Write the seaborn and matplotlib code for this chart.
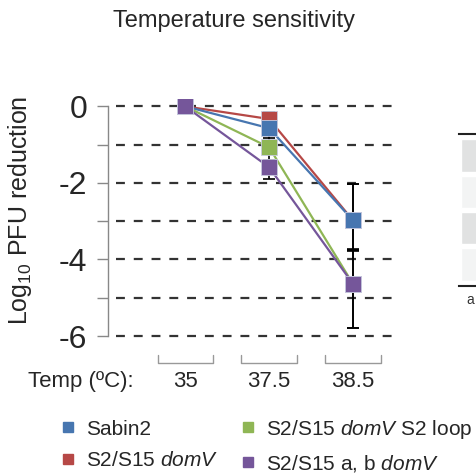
import numpy as np
import pandas as pd
import matplotlib
matplotlib.use("Agg")
import matplotlib.pyplot as plt
from matplotlib.lines import Line2D
import seaborn as sns

# data
temps = ["35", "37.5", "38.5"]
strains = ["Sabin2", "S2/S15 domV", "S2/S15 domV S2 loop", "S2/S15 a, b domV"]
legend_labels = ["Sabin2", r"S2/S15 $\mathit{domV}$",
                 r"S2/S15 $\mathit{domV}$ S2 loop", r"S2/S15 a, b $\mathit{domV}$"]
colors = ["#4776b0", "#b64846", "#8fb655", "#75569a"]

sabin2 = [0, -0.57, -2.98]
domv = [0, -0.33, -2.98]
domv_loop = [0, -1.07, -4.64]
ab_domv = [0, -1.59, -4.64]

sabin2_err_lo = [0, 0.25, 0.78]
sabin2_err_hi = [0, 0.25, 0.96]
domv_err_lo = [0, 0.17, 0.78]
domv_err_hi = [0, 0.17, 0.96]
loop_err_lo = [0, 0.32, 1.16]
loop_err_hi = [0, 0.32, 0.85]
ab_err_lo = [0, 0.30, 1.16]
ab_err_hi = [0, 0.20, 0.92]

values = [sabin2, domv, domv_loop, ab_domv]
err_lo = [sabin2_err_lo, domv_err_lo, loop_err_lo, ab_err_lo]
err_hi = [sabin2_err_hi, domv_err_hi, loop_err_hi, ab_err_hi]

# right-hand clipped panel rows
side_rows = [0, 1, 2, 3]
side_colors = ["#e1e2e2", "#f3f4f4", "#e1e2e2", "#f3f4f4"]

sns.set_style("white")
plt.rcParams["font.family"] = ["Liberation Sans", "DejaVu Sans"]
plt.rcParams["mathtext.fontset"] = "custom"
plt.rcParams["mathtext.rm"] = "Liberation Sans"
plt.rcParams["mathtext.it"] = "Liberation Sans:italic"

df = pd.DataFrame({
    "strain": np.repeat(strains, len(temps)),
    "pos": np.tile(np.arange(len(temps)), len(strains)),
    "value": np.concatenate(values),
})

fig = plt.figure(figsize=(4.77, 4.75), dpi=100)
ax = fig.add_axes([108 / 477, (475 - 343.7) / 475, 287 / 477, 245 / 475])

xmin, xmax = -0.92, 2.5
ax.set_xlim(xmin, xmax)
ax.set_ylim(-6.2, 0.2)

# dashed reference lines
ax.hlines(np.arange(-6, 1), -0.83, xmax, colors="#333333", linestyles=(0, (4, 4)),
          linewidth=1.6, zorder=1)

# error bars (drawn beneath the markers)
for i in range(len(strains)):
    ax.errorbar(np.arange(len(temps)), values[i], yerr=[err_lo[i], err_hi[i]],
                fmt="none", ecolor="black", elinewidth=1.2, capsize=4,
                capthick=1.2, zorder=2)

# lines + square markers, drawn so the reference's overlap order is kept
draw_order = [1, 0, 2, 3]
for k, i in enumerate(draw_order):
    sub = df[df["strain"] == strains[i]]
    sns.lineplot(data=sub, x="pos", y="value", ax=ax, color=colors[i],
                 marker="s", markersize=11.5, markeredgecolor="#c9cbe0",
                 markeredgewidth=0.6, linewidth=1.6, legend=False, zorder=3 + k)

ax.set_xlabel("")
ax.set_ylabel("")
ax.set_xticks([])
ax.set_yticks(np.arange(-6, 1))
ax.set_yticklabels(["-6", "", "-4", "", "-2", "", "0"], fontsize=23)
ax.tick_params(axis="y", direction="out", length=8, width=1, color="#888888",
               pad=7, left=True)
for s in ["top", "right", "bottom"]:
    ax.spines[s].set_visible(False)
ax.spines["left"].set_bounds(-6, 0)
ax.spines["left"].set_color("#888888")
ax.spines["left"].set_linewidth(1)

fig.text(20 / 477, 0.558, r"Log$_{10}$ PFU reduction", rotation=90,
         ha="center", va="center", fontsize=18)

# category brackets and labels under the plot
for j, t in enumerate(temps):
    ax.plot([j - 0.33, j - 0.33, j + 0.33, j + 0.33], [-6.5, -6.7, -6.7, -6.5],
            color="#999999", linewidth=1, clip_on=False)
    ax.text(j, -7.2, t, ha="center", va="center", fontsize=16)
ax.text(-0.62, -7.2, "Temp (ºC):", ha="right", va="center", fontsize=16)

fig.suptitle("Temperature sensitivity", x=0.49, y=0.98, fontsize=17)

handles = [Line2D([], [], linestyle="none", marker="s", markersize=7.5,
                  color=c) for c in colors]
fig.legend(handles, legend_labels, ncol=2, loc="upper left",
           bbox_to_anchor=(0.127, 0.121), frameon=False, fontsize=15,
           handletextpad=0.5, columnspacing=1.1, handlelength=0.7,
           labelspacing=0.6, borderpad=0, borderaxespad=0)

# clipped neighbouring panel at the right edge
ax2 = fig.add_axes([459 / 477, (475 - 286) / 475, 60 / 477, (286 - 134) / 475])
ax2.barh(side_rows, [1] * 4, height=0.9, left=0.03, color=side_colors)
ax2.set_ylim(3.6, -0.6)
ax2.set_xlim(0, 1)
ax2.set_xticks([])
ax2.set_yticks([])
for s in ["left", "right"]:
    ax2.spines[s].set_visible(False)
for s in ["top", "bottom"]:
    ax2.spines[s].set_color("#222222")
    ax2.spines[s].set_linewidth(1.5)
fig.text(466 / 477, 1 - 300 / 475, "a", fontsize=10, color="#333333",
         va="center")

fig.savefig("out.png", dpi=100)
